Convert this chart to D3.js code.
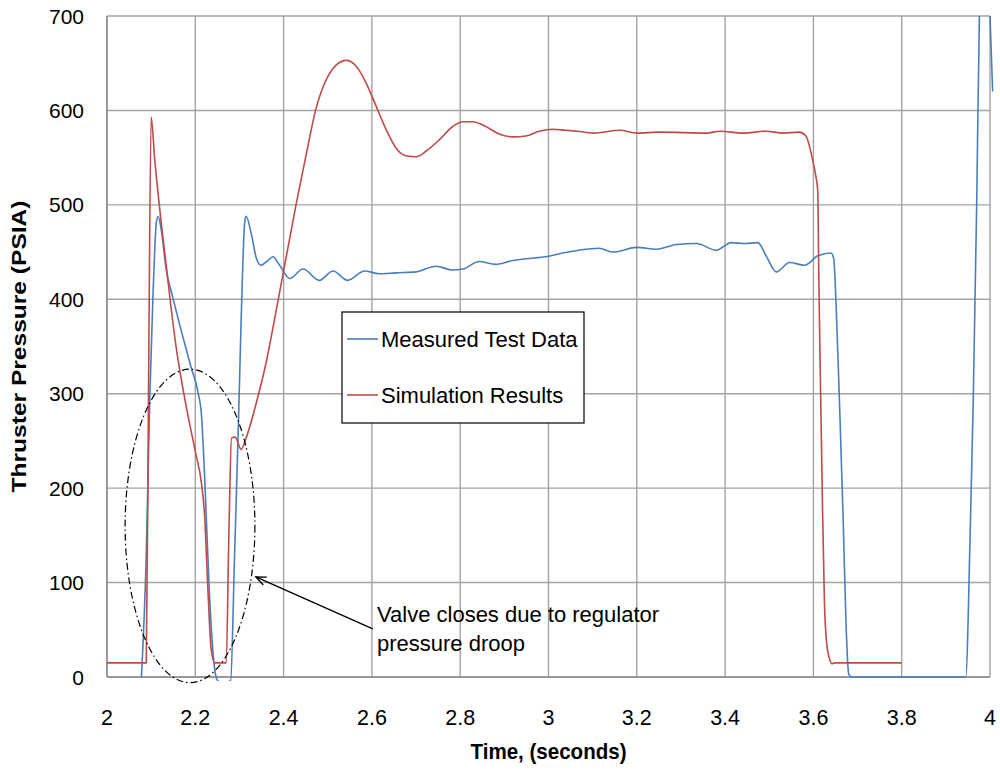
<!DOCTYPE html>
<html>
<head>
<meta charset="utf-8">
<script src="https://cdn.jsdelivr.net/npm/d3@7"></script>
<style>
  body { margin: 0; background: #fff; }
  svg { display: block; font-family: "Liberation Sans", Arial, sans-serif; }
</style>
</head>
<body>
<div id="chart"></div>
<script>
// measured test data (seconds, psia)
const measuredT = [2.078, 2.089, 2.097, 2.104, 2.112, 2.116, 2.123, 2.134, 2.149, 2.172, 2.191, 2.206, 2.214, 2.221, 2.232, 2.244, 2.251, 2.262, 2.28, 2.289, 2.297, 2.304, 2.312, 2.315, 2.327, 2.338, 2.349, 2.362, 2.376, 2.391, 2.414, 2.444, 2.481, 2.512, 2.545, 2.583, 2.617, 2.655, 2.7, 2.745, 2.783, 2.806, 2.843, 2.881, 2.919, 2.949, 2.994, 3.032, 3.069, 3.114, 3.147, 3.2, 3.245, 3.29, 3.335, 3.38, 3.414, 3.444, 3.474, 3.493, 3.516, 3.546, 3.58, 3.61, 3.64, 3.646, 3.652, 3.659, 3.667, 3.674, 3.68, 3.686, 3.8, 3.945, 3.955, 3.962, 3.97, 3.976, 3.988, 4.0, 4.006];
const measuredP = [0, 130, 297, 402, 482, 488, 473, 432, 402, 360, 327, 302, 277, 214, 88, 8, -4, -6, -4, 130, 256, 381, 482, 488, 469, 444, 436, 440, 445, 436, 422, 432, 420, 430, 420, 430, 427, 428, 429, 435, 431, 432, 440, 437, 441, 443, 445, 449, 452, 454, 450, 455, 453, 458, 459, 452, 460, 459, 460, 446, 429, 439, 436, 446, 449, 443, 387, 292, 174, 55, 3, 0, 0, 0, 150, 292, 505, 700, 800, 700, 620];

// simulation results
const simT = [2.0, 2.089, 2.094, 2.1, 2.108, 2.134, 2.157, 2.18, 2.2, 2.214, 2.221, 2.229, 2.236, 2.244, 2.27, 2.276, 2.282, 2.29, 2.304, 2.315, 2.338, 2.36, 2.38, 2.4, 2.429, 2.451, 2.474, 2.496, 2.519, 2.542, 2.564, 2.587, 2.61, 2.632, 2.655, 2.677, 2.7, 2.723, 2.753, 2.783, 2.806, 2.828, 2.858, 2.888, 2.919, 2.949, 2.979, 3.009, 3.039, 3.065, 3.102, 3.162, 3.2, 3.253, 3.358, 3.388, 3.441, 3.493, 3.531, 3.568, 3.583, 3.598, 3.606, 3.61, 3.612, 3.615, 3.62, 3.625, 3.63, 3.636, 3.642, 3.648, 3.8];
const simP = [15, 15, 300, 593, 549, 436, 348, 285, 239, 205, 172, 88, 29, 15, 15, 150, 253, 254, 241, 253, 290, 332, 380, 430, 502, 553, 603, 632, 648, 653, 647, 629, 604, 580, 560, 552, 551, 557, 569, 583, 588, 588, 583, 575, 572, 573, 578, 580, 579, 578, 576, 579, 576, 577, 576, 578, 576, 578, 576, 577, 573, 548, 529, 514, 434, 339, 197, 79, 36, 20, 14, 15, 15];

const xTicks = [2, 2.2, 2.4, 2.6, 2.8, 3, 3.2, 3.4, 3.6, 3.8, 4];
const yTicks = [0, 100, 200, 300, 400, 500, 600, 700];
const seriesNames = ["Measured Test Data", "Simulation Results"];
const seriesColors = ["#4a7ebb", "#be4b48"];
const noteLines = ["Valve closes due to regulator", "pressure droop"];

const size = { width: 1000, height: 770 };
const margin = { top: 16, bottom: 93, left: 107, right: 10 };

const svg = d3.select("#chart")
  .append("svg")
  .attr("width", size.width)
  .attr("height", size.height);

const x = d3.scaleLinear()
  .domain([2, 4])
  .range([margin.left, size.width - margin.right]);

const y = d3.scaleLinear()
  .domain([0, 700])
  .range([size.height - margin.bottom, margin.top]);

// grid
const grid = svg.append("g").attr("stroke", "#a3a3a3").attr("stroke-width", 1.4);
xTicks.forEach((t) => {
  grid.append("line")
    .attr("x1", x(t)).attr("x2", x(t))
    .attr("y1", y(0)).attr("y2", y(700));
});
yTicks.forEach((t) => {
  grid.append("line")
    .attr("x1", x(2)).attr("x2", x(4))
    .attr("y1", y(t)).attr("y2", y(t));
});

// axis lines
svg.append("line")
  .attr("x1", x(2)).attr("x2", x(2))
  .attr("y1", y(0)).attr("y2", y(700))
  .attr("stroke", "#8c8c8c").attr("stroke-width", 1.5);
svg.append("line")
  .attr("x1", x(2)).attr("x2", x(4))
  .attr("y1", y(0)).attr("y2", y(0))
  .attr("stroke", "#8c8c8c").attr("stroke-width", 1.5);

// tick labels
svg.append("g")
  .selectAll("text")
  .data(yTicks)
  .join("text")
  .text((d) => d)
  .attr("x", 84)
  .attr("y", (d) => y(d) + 7.5)
  .attr("text-anchor", "end")
  .attr("font-size", 21)
  .attr("fill", "#000");

svg.append("g")
  .selectAll("text")
  .data(xTicks)
  .join("text")
  .text((d) => d)
  .attr("x", (d) => x(d))
  .attr("y", 725)
  .attr("text-anchor", "middle")
  .attr("font-size", 21.5)
  .attr("fill", "#000");

// axis titles
svg.append("text")
  .text("Time, (seconds)")
  .attr("x", (x(2) + x(4)) / 2)
  .attr("y", 759)
  .attr("text-anchor", "middle")
  .attr("font-size", 22)
  .attr("font-weight", "bold")
  .attr("textLength", 156)
  .attr("lengthAdjust", "spacingAndGlyphs");

svg.append("text")
  .text("Thruster Pressure (PSIA)")
  .attr("transform", `translate(26, ${(y(0) + y(700)) / 2}) rotate(-90)`)
  .attr("text-anchor", "middle")
  .attr("font-size", 21)
  .attr("font-weight", "bold")
  .attr("textLength", 292)
  .attr("lengthAdjust", "spacingAndGlyphs");

// lines
svg.append("clipPath")
  .attr("id", "plotClip")
  .append("rect")
  .attr("x", x(2))
  .attr("y", y(700))
  .attr("width", x(4) - x(2) + 5)
  .attr("height", y(0) - y(700) + 4);

const line = d3.line()
  .x((d) => x(d.t))
  .y((d) => y(d.p))
  .curve(d3.curveMonotoneX);

const measured = measuredT.map((t, i) => ({ t, p: measuredP[i] }));
const sim = simT.map((t, i) => ({ t, p: simP[i] }));

const plot = svg.append("g").attr("clip-path", "url(#plotClip)");
plot.append("path")
  .datum(measured)
  .attr("d", line)
  .attr("fill", "none")
  .attr("stroke", seriesColors[0])
  .attr("stroke-width", 1.6);
plot.append("path")
  .datum(sim)
  .attr("d", line)
  .attr("fill", "none")
  .attr("stroke", seriesColors[1])
  .attr("stroke-width", 1.6);

// legend
const legend = svg.append("g");
legend.append("rect")
  .attr("x", 342).attr("y", 312)
  .attr("width", 242).attr("height", 111)
  .attr("fill", "#fff")
  .attr("stroke", "#000")
  .attr("stroke-width", 1.2);
seriesNames.forEach((name, i) => {
  const ly = 339 + i * 56;
  legend.append("line")
    .attr("x1", 347).attr("x2", 378)
    .attr("y1", ly).attr("y2", ly)
    .attr("stroke", seriesColors[i])
    .attr("stroke-width", 1.6);
  legend.append("text")
    .text(name)
    .attr("x", 381)
    .attr("y", ly + 8)
    .attr("font-size", 22)
    .attr("fill", "#000");
});

// annotation: ellipse around the droop, arrow and note
const noteEllipse = { t: 2.188, p: 160, dt: 0.147, dp: 166 };
const arrowFrom = { t: 2.602, p: 51 };
const arrowTo = { t: 2.337, p: 106 };

svg.append("ellipse")
  .attr("cx", x(noteEllipse.t))
  .attr("cy", y(noteEllipse.p))
  .attr("rx", x(noteEllipse.t + noteEllipse.dt) - x(noteEllipse.t))
  .attr("ry", y(noteEllipse.p) - y(noteEllipse.p + noteEllipse.dp))
  .attr("fill", "none")
  .attr("stroke", "#000")
  .attr("stroke-width", 1.2)
  .attr("stroke-dasharray", "7,3,1.5,3");

const ax1 = x(arrowFrom.t), ay1 = y(arrowFrom.p);
const ax2 = x(arrowTo.t), ay2 = y(arrowTo.p);
svg.append("line")
  .attr("x1", ax1).attr("y1", ay1)
  .attr("x2", ax2).attr("y2", ay2)
  .attr("stroke", "#000")
  .attr("stroke-width", 1.3);
const ang = Math.atan2(ay1 - ay2, ax1 - ax2);
const head = [ang - 0.4, ang + 0.4].map((a) => [ax2 + 11 * Math.cos(a), ay2 + 11 * Math.sin(a)]);
svg.append("path")
  .attr("d", `M${head[0]}L${ax2},${ay2}L${head[1]}`)
  .attr("fill", "none")
  .attr("stroke", "#000")
  .attr("stroke-width", 1.3);

svg.append("g")
  .selectAll("text")
  .data(noteLines)
  .join("text")
  .text((d) => d)
  .attr("x", 377)
  .attr("y", (d, i) => 622 + i * 29)
  .attr("font-size", 22)
  .attr("fill", "#000");
</script>
</body>
</html>
